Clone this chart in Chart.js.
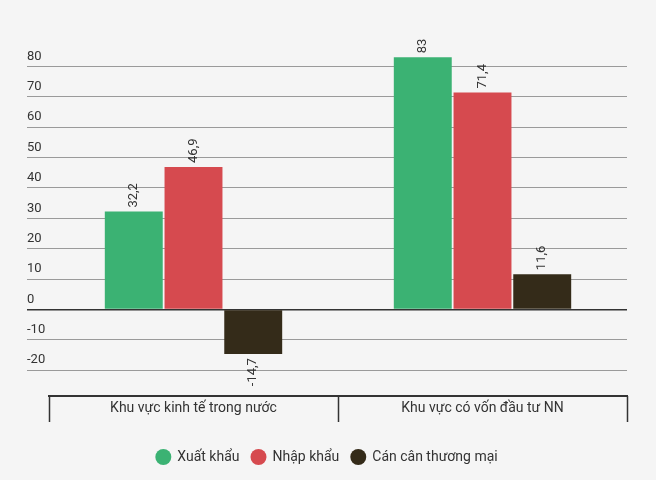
<!DOCTYPE html>
<html>
<head>
<meta charset="utf-8">
<script src="https://cdn.jsdelivr.net/npm/chart.js@4"></script>
<style>
  html, body { margin: 0; padding: 0; background: #f5f5f5; }
  #wrap { width: 656px; height: 480px; }
</style>
</head>
<body>
<div id="wrap"><canvas id="chart"></canvas></div>
<script>
// Dữ liệu biểu đồ
const categories = ["Khu vực kinh tế trong nước", "Khu vực có vốn đầu tư NN"];
const exportValues = [32.2, 83];
const importValues = [46.9, 71.4];
const balanceValues = [-14.7, 11.6];
const seriesNames = ["Xuất khẩu", "Nhập khẩu", "Cán cân thương mại"];
const seriesColors = ["#3bb273", "#d64a4f", "#342b19"];

// Nhãn giá trị xoay dọc trên mỗi cột
const valueLabels = {
  id: "valueLabels",
  afterDatasetsDraw(chart) {
    const ctx = chart.ctx;
    ctx.save();
    ctx.font = "13px Roboto";
    ctx.fillStyle = "#333";
    ctx.textBaseline = "middle";
    chart.data.datasets.forEach((ds, i) => {
      chart.getDatasetMeta(i).data.forEach((bar, j) => {
        const v = ds.data[j];
        const text = String(v).replace(".", ",");
        ctx.save();
        ctx.translate(bar.x, v >= 0 ? bar.y - 4 : bar.y + 4);
        ctx.rotate(-Math.PI / 2);
        ctx.textAlign = v >= 0 ? "left" : "right";
        ctx.fillText(text, 0, 0);
        ctx.restore();
      });
    });
    ctx.restore();
  },
};

// Vạch chia giữa các nhóm dưới trục x
const categoryDividers = {
  id: "categoryDividers",
  afterDraw(chart) {
    const x = chart.scales.x;
    const ctx = chart.ctx;
    const half = (x.getPixelForValue(1) - x.getPixelForValue(0)) / 2;
    ctx.save();
    ctx.strokeStyle = "#333";
    ctx.lineWidth = 1.5;
    for (let i = 0; i <= categories.length; i++) {
      const px = Math.round(x.getPixelForValue(0) - half + i * half * 2) + 0.5;
      ctx.beginPath();
      ctx.moveTo(px, x.top);
      ctx.lineTo(px, x.top + 26);
      ctx.stroke();
    }
    ctx.restore();
  },
};

new Chart(document.getElementById("chart"), {
  type: "bar",
  data: {
    labels: categories,
    datasets: [exportValues, importValues, balanceValues].map((d, i) => ({
      label: seriesNames[i],
      data: d,
      backgroundColor: seriesColors[i],
      categoryPercentage: 0.62,
      barPercentage: 0.97,
    })),
  },
  options: {
    responsive: true,
    maintainAspectRatio: false,
    animation: false,
    layout: { padding: { left: 27, right: 29, top: 36, bottom: 6 } },
    plugins: {
      tooltip: { enabled: false },
      legend: {
        position: "bottom",
        labels: {
          usePointStyle: true,
          pointStyle: "circle",
          boxWidth: 18,
          boxHeight: 11.3,
          padding: 12,
          color: "#333",
          font: { family: "Roboto", size: 14 },
        },
      },
    },
    scales: {
      x: {
        afterFit(scale) {
          scale.height = 42;
        },
        grid: { display: false, drawTicks: false },
        border: { display: true, color: "#333", width: 2 },
        ticks: {
          color: "#333",
          font: { family: "Roboto", size: 14 },
          padding: 4,
          maxRotation: 0,
        },
      },
      y: {
        min: -28.5,
        max: 90,
        afterBuildTicks(scale) {
          scale.ticks = scale.ticks.filter((t) => t.value % 10 === 0 && t.value <= 80);
        },
        afterFit(scale) {
          scale.width = 22;
        },
        grid: {
          tickLength: 22,
          color: (c) => (c.tick && c.tick.value === 0 ? "#333" : "#9a9a9a"),
          lineWidth: (c) => (c.tick && c.tick.value === 0 ? 1.5 : 1),
        },
        border: { display: false },
        ticks: {
          stepSize: 10,
          crossAlign: "far",
          labelOffset: -10,
          color: "#333",
          font: { family: "Roboto", size: 13 },
        },
      },
    },
  },
  plugins: [valueLabels, categoryDividers],
});
</script>
</body>
</html>
